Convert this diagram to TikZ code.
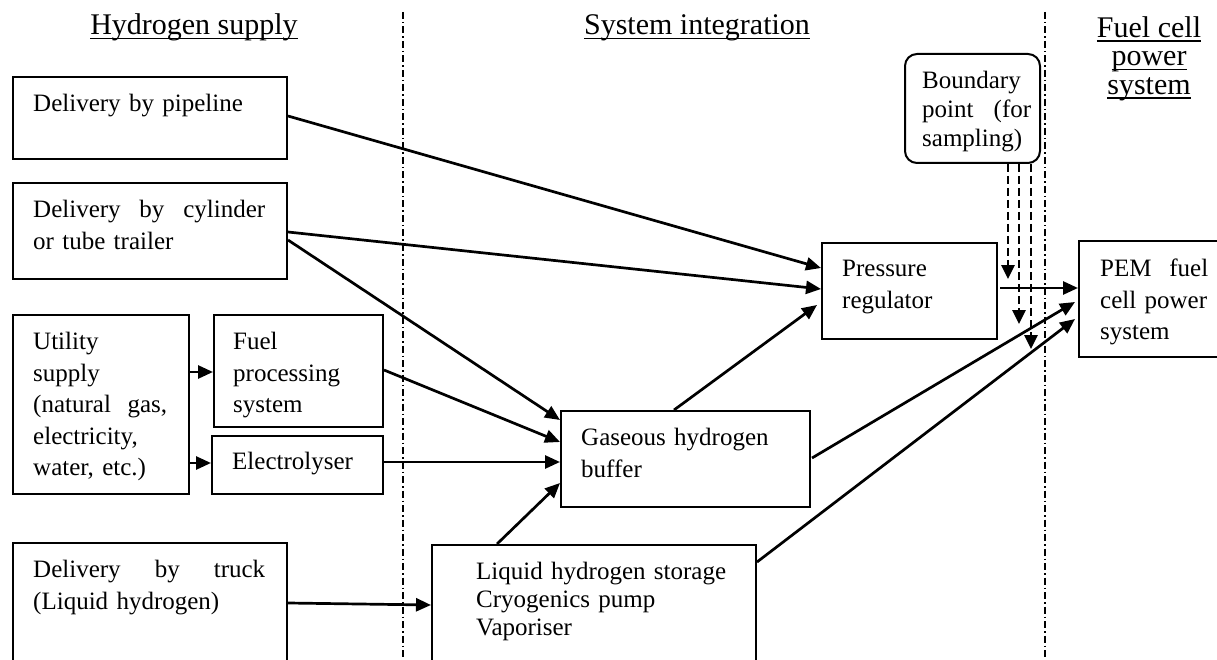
\documentclass[tikz,border=0pt]{standalone}
\usepackage{fontspec}
\setmainfont{Liberation Serif}
\usetikzlibrary{arrows.meta, calc, positioning}
\tikzset{>={Triangle[length=15pt,width=13pt]}}
\newcommand{\hdul}[1]{\setbox0\hbox{#1}\rlap{\rule[-4.5pt]{\wd0}{1.4pt}}\box0}

\begin{document}
\begin{tikzpicture}[x=1pt, y=-1pt,
  frame/.style={draw, line width=2pt, inner sep=0pt, anchor=north west},
  txt/.style={inner sep=0pt, anchor=north west, align=left, font=\fontsize{25}{31.5}\selectfont},
  head/.style={inner sep=0pt, font=\fontsize{30}{28.5}\selectfont},
  flow/.style={->, line width=2.7pt},
  probe/.style={-{Triangle[length=14pt,width=13pt]}, line width=2.7pt, dash pattern=on 8pt off 4pt},
  divider/.style={line width=1.6pt, dash pattern=on 7pt off 3pt on 1.5pt off 3pt}]

\useasboundingbox (0,0) rectangle (1217,660);
\clip (0,0) rectangle (1217,660);

% headings
\node[head, anchor=base] (hsup) at (194,35) {\hdul{Hydrogen supply}};
\node[head, anchor=base] (sysint) at (697,35) {\hdul{System integration}};
\node[head, anchor=north, align=center] (fcps) at (1149,16) {\hdul{Fuel cell}\\\hdul{power}\\\hdul{system}};

% boundaries between the three parts
\draw[divider] (403,12) -- (403,660);
\draw[divider] (1045,12) -- (1045,660);

% supply side
\node[frame, minimum width=274pt, minimum height=82pt] (pipe) at (12,76) {};
\node[txt, text width=232pt] (pipe-t) at ($(pipe.north west)+(21,18)$) {Delivery by pipeline};
\node[frame, minimum width=274pt, minimum height=96pt] (cyl) at (12,182) {};
\node[txt, text width=232pt] (cyl-t) at ($(cyl.north west)+(21,18)$) {Delivery\hfill by\hfill cylinder\\or tube trailer};
\node[frame, minimum width=176pt, minimum height=179pt] (util) at (12,314) {};
\node[txt, text width=134pt] (util-t) at ($(util.north west)+(21,18)$) {Utility\\supply\\(natural\hfill gas,\\electricity,\\water, etc.)};
\node[frame, minimum width=169pt, minimum height=112pt] (fuel) at (213,314) {};
\node[txt, text width=140pt] (fuel-t) at ($(fuel.north west)+(20,18)$) {Fuel\\processing\\system};
\node[frame, minimum width=171pt, minimum height=58pt] (elec) at (211,435) {};
\node[txt, text width=140pt] (elec-t) at ($(elec.north west)+(21,17)$) {Electrolyser};
\node[frame, minimum width=274pt, minimum height=140pt] (truck) at (12,542) {};
\node[txt, text width=232pt] (truck-t) at ($(truck.north west)+(21,18)$) {Delivery\hfill by\hfill truck\\(Liquid hydrogen)};

% integration
\node[frame, minimum width=249pt, minimum height=96pt] (gas) at (560,410) {};
\node[txt, text width=210pt] (gas-t) at ($(gas.north west)+(21,18)$) {Gaseous hydrogen\\buffer};
\node[frame, minimum width=324pt, minimum height=140pt] (liq) at (431,544) {};
\node[txt, text width=270pt, font=\fontsize{25}{28}\selectfont] (liq-t) at ($(liq.north west)+(45,18)$) {Liquid hydrogen storage\\Cryogenics pump\\Vaporiser};
\node[frame, minimum width=175pt, minimum height=96pt] (pres) at (821,242) {};
\node[txt, text width=140pt] (pres-t) at ($(pres.north west)+(21,18)$) {Pressure\\regulator};
\node[frame, rounded corners=12pt, minimum width=135pt, minimum height=109pt] (bound) at (904,53) {};
\node[txt, text width=109pt, font=\fontsize{25}{29}\selectfont] (bound-t) at ($(bound.north west)+(18,18)$) {Boundary\\point\hfill (for\\sampling)};

% fuel cell side
\node[frame, minimum width=160pt, minimum height=116pt] (pem) at (1078,240) {};
\node[txt, text width=108pt] (pem-t) at ($(pem.north west)+(22,19)$) {PEM\hfill fuel\\cell power\\system};

% flows
\draw[flow] ($(util.north east)+(0,58)$) -- ($(fuel.north west)+(0,58)$);
\draw[flow] ($(util.north east)+(0,149)$) -- ($(elec.north west)+(0,28)$);
\draw[flow] ($(pipe.north east)+(0,40)$) -- ($(pres.north west)+(0,26)$);
\draw[flow] ($(cyl.north east)+(0,50)$) -- ($(pres.north west)+(0,47)$);
\draw[flow] ($(cyl.north east)+(0,58)$) -- ($(gas.north west)+(0,10)$);
\draw[flow] ($(fuel.north east)+(0,56)$) -- ($(gas.north west)+(0,32)$);
\draw[flow] ($(elec.north east)+(0,27)$) -- ($(gas.north west)+(0,52)$);
\draw[flow] ($(liq.north west)+(66,0)$) -- ($(gas.north west)+(0,73)$);
\draw[flow] ($(truck.north east)+(0,61)$) -- ($(liq.north west)+(0,61)$);
\draw[flow] ($(gas.north west)+(114,0)$) -- ($(pres.north west)+(-4,63)$);
\draw[flow] ($(pres.north east)+(2,46)$) -- ($(pem.north west)+(0,48)$);
\draw[flow] ($(gas.north east)+(1,48)$) -- ($(pem.north west)+(-3,62)$);
\draw[flow] ($(liq.north east)+(0,18)$) -- ($(pem.north west)+(-3,79)$);

% sampling points
\coordinate (s1) at (1008,279);
\coordinate (s2) at (1019,324);
\coordinate (s3) at (1031,349);
\draw[probe] ($(bound.south west)+(104,0)$) -- (s1);
\draw[probe] ($(bound.south west)+(115,0)$) -- (s2);
\draw[probe] ($(bound.south west)+(127,0)$) -- (s3);
\end{tikzpicture}
\end{document}
